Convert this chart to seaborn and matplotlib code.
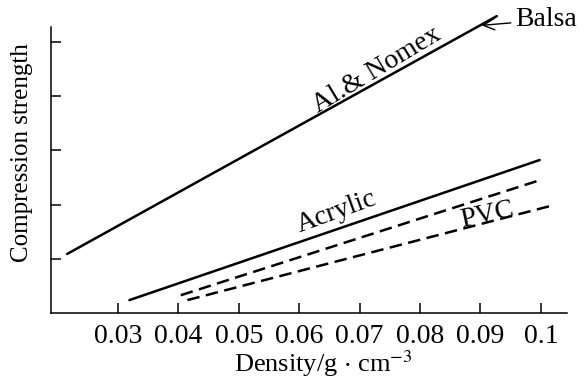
import matplotlib
matplotlib.use("Agg")
import matplotlib.pyplot as plt
import seaborn as sns

# density (g/cm^3) and relative compression strength
balsa_x = [0.0216, 0.0927]
balsa_y = [1.09, 5.47]

acrylic_x = [0.0319, 0.0998]
acrylic_y = [0.24, 2.82]

pvc_hi_x = [0.0404, 0.0993]
pvc_hi_y = [0.33, 2.43]

pvc_lo_x = [0.0415, 0.1018]
pvc_lo_y = [0.24, 1.98]

x_ticks = [0.03, 0.04, 0.05, 0.06, 0.07, 0.08, 0.09, 0.1]
x_tick_labels = ["0.03", "0.04", "0.05", "0.06", "0.07", "0.08", "0.09", "0.1"]
y_ticks = [1, 2, 3, 4, 5]

sns.set_style("ticks")
plt.rcParams["font.family"] = ["Liberation Serif", "DejaVu Serif"]
plt.rcParams["mathtext.fontset"] = "stix"
plt.rcParams["text.color"] = "black"
plt.rcParams["axes.labelcolor"] = "black"

fig = plt.figure(figsize=(5.85, 3.8), dpi=100)
ax = fig.add_axes([0.088, 0.176, 0.881, 0.793])

lw = 1.8
sns.lineplot(x=balsa_x, y=balsa_y, ax=ax, color="black", lw=lw)
sns.lineplot(x=acrylic_x, y=acrylic_y, ax=ax, color="black", lw=lw)
sns.lineplot(x=pvc_hi_x, y=pvc_hi_y, ax=ax, color="black", lw=lw)
sns.lineplot(x=pvc_lo_x, y=pvc_lo_y, ax=ax, color="black", lw=lw)
for line in ax.lines[2:]:
    line.set_dashes((5, 2.6))

ax.set_xlim(0.019, 0.1043)
ax.set_ylim(0, 5.55)
ax.set_xticks(x_ticks)
ax.set_xticklabels(x_tick_labels)
ax.set_yticks(y_ticks)
ax.set_yticklabels([])
ax.tick_params(direction="in", length=7, width=1.1, labelsize=20, colors="black")
ax.tick_params(axis="x", pad=8)

for side in ["top", "right"]:
    ax.spines[side].set_visible(False)
for side in ["left", "bottom"]:
    ax.spines[side].set_linewidth(1.1)
    ax.spines[side].set_color("black")
ax.spines["left"].set_bounds(0, 5.27)

ax.set_xlabel(r"Density/g $\cdot$ cm$^{-3}$", fontsize=19, va="center")
ax.xaxis.set_label_coords(0.527, -0.168)
ax.set_ylabel("Compression strength", fontsize=18, va="center")
ax.yaxis.set_label_coords(-0.057, 0.534)

# labels along the lines
ax.text(0.0729, 4.47, "Al.& Nomex", fontsize=20, rotation=31, ha="center", va="center")
ax.text(0.0662, 1.86, "Acrylic", fontsize=20, rotation=20, ha="center", va="center")
ax.text(0.0911, 1.80, "PVC", fontsize=20, rotation=12, ha="center", va="center")
ax.annotate("Balsa", xy=(0.0902, 5.30), xytext=(0.0958, 5.40),
            fontsize=20, ha="left", va="center",
            arrowprops=dict(arrowstyle="->", lw=1.0, color="black", shrinkA=1, shrinkB=0))

fig.savefig("out.png", dpi=100)
